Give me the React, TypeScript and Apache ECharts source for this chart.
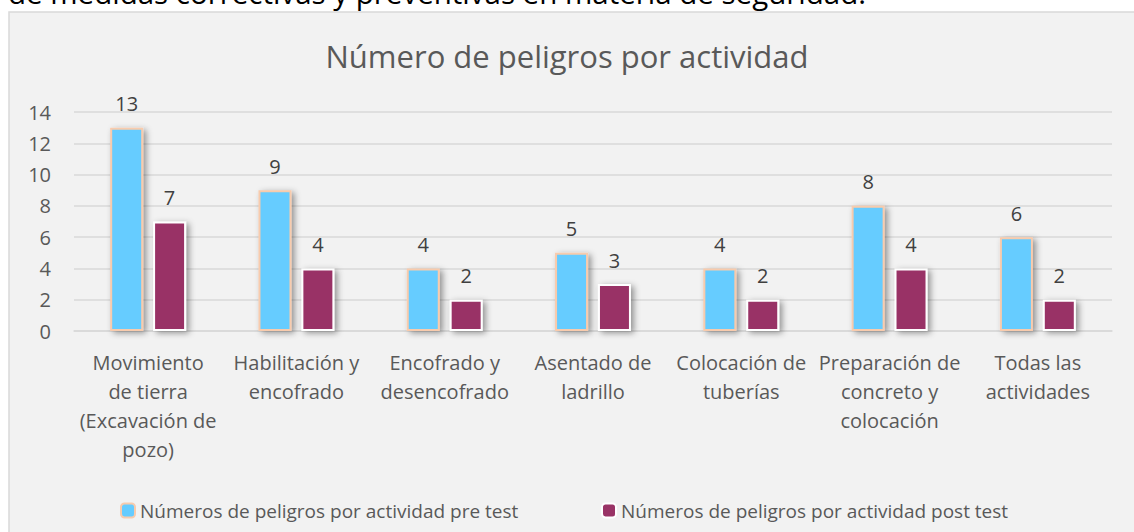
import React, { useEffect, useRef } from "react";
import * as echarts from "echarts";

const pageText = "de medidas correctivas y preventivas en materia de seguridad.";
const chartTitle = "Número de peligros por actividad";
const categories = [
  "Movimiento\nde tierra\n(Excavación de\npozo)",
  "Habilitación y\nencofrado",
  "Encofrado y\ndesencofrado",
  "Asentado de\nladrillo",
  "Colocación de\ntuberías",
  "Preparación de\nconcreto y\ncolocación",
  "Todas las\nactividades",
];
const preName = "Números de peligros por actividad pre test";
const postName = "Números de peligros por actividad post test";
const preValues = [13, 9, 4, 5, 4, 8, 6];
const postValues = [7, 4, 2, 3, 2, 4, 2];
const yTicks = { min: 0, max: 14, interval: 2 };

const FONT = "'Open Sans', sans-serif";
const TXT = "#595959";

export default function App() {
  const ref = useRef<HTMLDivElement>(null);
  useEffect(() => {
    if (!ref.current) return;
    const chart = echarts.init(ref.current, null, { renderer: "svg" });
    const shadow = {
      shadowColor: "rgba(0,0,0,0.4)",
      shadowBlur: 6,
      shadowOffsetX: 3,
      shadowOffsetY: 2,
    };
    chart.setOption({
      animation: false,
      backgroundColor: "#ffffff",
      textStyle: { fontFamily: FONT },
      graphic: [
        {
          type: "rect",
          z: -10,
          shape: { x: 9, y: 12, width: 1300, height: 700 },
          style: { fill: "#F2F2F2", stroke: "#D9D9D9", lineWidth: 1.5 },
        },
        {
          type: "text",
          z: -10,
          x: 8,
          y: 7,
          style: {
            text: pageText,
            fill: "#000000",
            font: "29.5px 'Open Sans', sans-serif",
            textVerticalAlign: "bottom",
          },
        },
      ],
      title: {
        text: chartTitle,
        left: "center",
        top: 35,
        textStyle: { fontFamily: FONT, fontSize: 31, fontWeight: "normal", color: TXT },
      },
      legend: [
        {
          data: [preName],
          left: 115,
          top: 496,
          itemWidth: 14,
          itemHeight: 14,
          textStyle: { fontFamily: FONT, fontSize: 19, color: TXT },
          itemStyle: { shadowBlur: 0, shadowOffsetX: 0, shadowOffsetY: 0 },
        },
        {
          data: [postName],
          left: 596,
          top: 496,
          itemWidth: 14,
          itemHeight: 14,
          textStyle: { fontFamily: FONT, fontSize: 19, color: TXT },
          itemStyle: { shadowBlur: 0, shadowOffsetX: 0, shadowOffsetY: 0 },
        },
      ],
      grid: { left: 74, right: 22, top: 112, bottom: 201, containLabel: false },
      xAxis: {
        type: "category",
        data: categories,
        axisLine: { show: true, lineStyle: { color: "#D9D9D9", width: 1.5 } },
        axisTick: { show: false },
        axisLabel: {
          interval: 0,
          margin: 17,
          fontFamily: FONT,
          fontSize: 20,
          lineHeight: 29,
          color: TXT,
          align: "center",
        },
      },
      yAxis: {
        type: "value",
        min: yTicks.min,
        max: yTicks.max,
        interval: yTicks.interval,
        axisLine: { show: false },
        axisTick: { show: false },
        splitLine: { lineStyle: { color: "#D9D9D9", width: 1.5 } },
        axisLabel: { margin: 23, fontFamily: FONT, fontSize: 20, color: TXT },
      },
      series: [
        {
          name: preName,
          type: "bar",
          data: preValues,
          barWidth: 33,
          barGap: "30%",
          itemStyle: { color: "#66CCFF", borderColor: "#F8CBAD", borderWidth: 2, ...shadow },
          label: {
            show: true,
            position: "top",
            distance: 14,
            fontFamily: FONT,
            fontSize: 20,
            color: "#404040",
          },
        },
        {
          name: postName,
          type: "bar",
          data: postValues,
          barWidth: 33,
          itemStyle: { color: "#993366", borderColor: "#FFFFFF", borderWidth: 2, ...shadow },
          label: {
            show: true,
            position: "top",
            distance: 14,
            fontFamily: FONT,
            fontSize: 20,
            color: "#404040",
          },
        },
      ],
    });
    return () => chart.dispose();
  }, []);
  return (
    <div
      ref={ref}
      style={{ position: "fixed", left: 0, top: 0, width: 1134, height: 532, background: "#fff" }}
    />
  );
}
